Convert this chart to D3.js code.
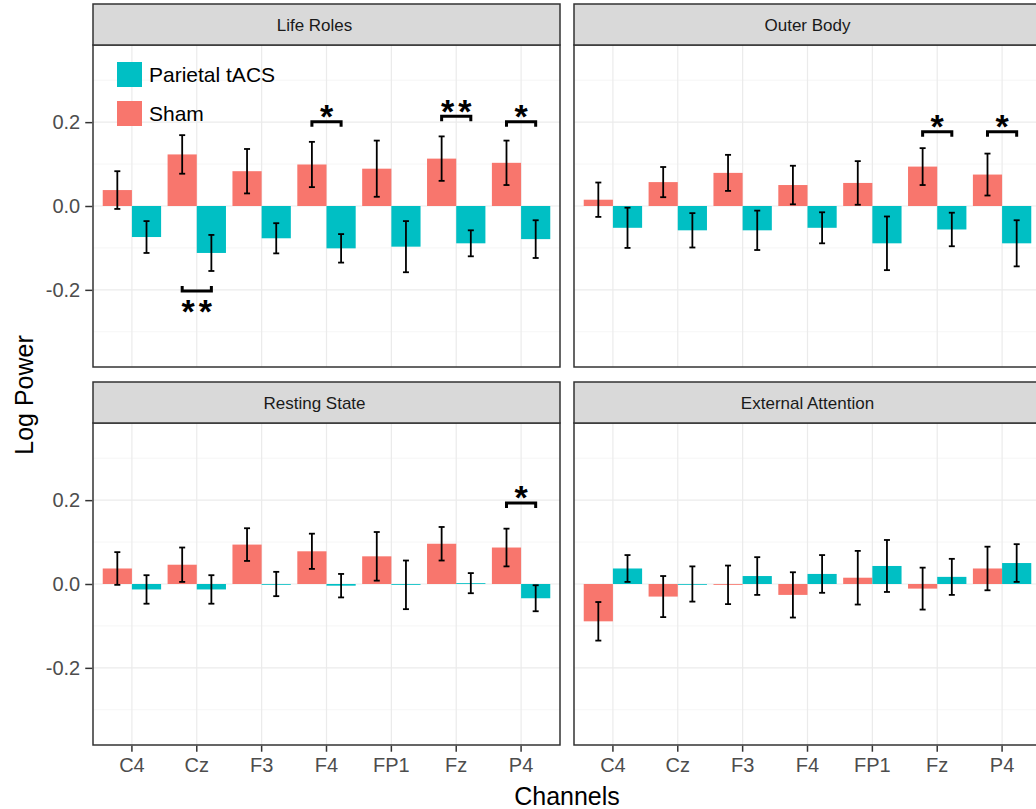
<!DOCTYPE html>
<html>
<head>
<meta charset="utf-8">
<script src="https://cdn.jsdelivr.net/npm/d3@7"></script>
<style>
  body { margin: 0; background: #fff; }
  svg { display: block; font-family: "Liberation Sans", Arial, sans-serif; }
</style>
</head>
<body>
<div id="main"></div>
<script>
// channels and facets
var channels = ["C4", "Cz", "F3", "F4", "FP1", "Fz", "P4"];
var conditions = ["Life Roles", "Outer Body", "Resting State", "External Attention"];
var groups = ["Sham", "Parietal tACS"];
var legendOrder = ["Parietal tACS", "Sham"];
var yTicks = [-0.2, 0.0, 0.2];
var yMinor = [-0.3, -0.1, 0.1, 0.3];

// means and error (half length of bars)
var lifeRolesSham      = [0.038, 0.123, 0.083, 0.099, 0.089, 0.113, 0.103];
var lifeRolesShamErr   = [0.045, 0.046, 0.053, 0.054, 0.067, 0.053, 0.053];
var lifeRolesTacs      = [-0.074, -0.112, -0.077, -0.101, -0.097, -0.089, -0.079];
var lifeRolesTacsErr   = [0.038, 0.043, 0.036, 0.034, 0.061, 0.031, 0.045];

var outerBodySham      = [0.015, 0.057, 0.079, 0.050, 0.055, 0.094, 0.075];
var outerBodyShamErr   = [0.041, 0.036, 0.043, 0.046, 0.052, 0.044, 0.050];
var outerBodyTacs      = [-0.052, -0.058, -0.058, -0.052, -0.089, -0.056, -0.089];
var outerBodyTacsErr   = [0.048, 0.041, 0.047, 0.037, 0.064, 0.040, 0.055];

var restingSham        = [0.037, 0.046, 0.094, 0.078, 0.066, 0.096, 0.087];
var restingShamErr     = [0.039, 0.041, 0.039, 0.042, 0.058, 0.040, 0.045];
var restingTacs        = [-0.013, -0.013, 0.000, -0.004, -0.002, 0.002, -0.034];
var restingTacsErr     = [0.034, 0.034, 0.029, 0.028, 0.058, 0.024, 0.031];

var externalSham       = [-0.089, -0.030, -0.002, -0.026, 0.015, -0.011, 0.037];
var externalShamErr    = [0.046, 0.049, 0.046, 0.054, 0.064, 0.050, 0.052];
var externalTacs       = [0.037, 0.000, 0.019, 0.024, 0.043, 0.017, 0.050];
var externalTacsErr    = [0.032, 0.042, 0.045, 0.045, 0.062, 0.043, 0.045];

// significance brackets
var sigCondition = ["Life Roles", "Life Roles", "Life Roles", "Life Roles", "Outer Body", "Outer Body", "Resting State"];
var sigChannel   = ["Cz", "F4", "Fz", "P4", "Fz", "P4", "P4"];
var sigLabel     = ["**", "*", "**", "*", "*", "*", "*"];
var sigY         = [-0.203, 0.201, 0.214, 0.201, 0.177, 0.177, 0.193];

var colors = { "Sham": "#F8766D", "Parietal tACS": "#00BFC4" };

var series = {
    "Life Roles":         { "Sham": [lifeRolesSham, lifeRolesShamErr], "Parietal tACS": [lifeRolesTacs, lifeRolesTacsErr] },
    "Outer Body":         { "Sham": [outerBodySham, outerBodyShamErr], "Parietal tACS": [outerBodyTacs, outerBodyTacsErr] },
    "Resting State":      { "Sham": [restingSham, restingShamErr],     "Parietal tACS": [restingTacs, restingTacsErr] },
    "External Attention": { "Sham": [externalSham, externalShamErr],   "Parietal tACS": [externalTacs, externalTacsErr] }
};

// layout
var width = 1036, height = 809;
var cols = [{ x0: 93, x1: 560, labelNudge: -12 }, { x0: 574, x1: 1041, labelNudge: 0 }];
var rows = [{ s0: 4, s1: 45, p1: 367 }, { s0: 382, s1: 423, p1: 745 }];
var yDomain = [-0.384, 0.384];

var svg = d3.select("#main").append("svg")
    .attr("width", width)
    .attr("height", height);

conditions.forEach(function (cond, ci) {
    var col = cols[ci % 2], row = rows[Math.floor(ci / 2)];
    var g = svg.append("g");

    var xScale = d3.scaleBand().domain(channels).range([col.x0, col.x1])
        .paddingInner(0).paddingOuter(0.1);
    var xGroup = d3.scaleBand().domain(groups)
        .range([xScale.bandwidth() * 0.05, xScale.bandwidth() * 0.95]);
    var yScale = d3.scaleLinear().domain(yDomain).range([row.p1, row.s1]);
    var cx = function (ch) { return xScale(ch) + xScale.bandwidth() / 2; };

    // panel background + grid
    g.append("rect").attr("x", col.x0).attr("y", row.s1)
        .attr("width", col.x1 - col.x0).attr("height", row.p1 - row.s1).attr("fill", "#fff");
    g.selectAll(".minor").data(yMinor).enter().append("line")
        .attr("x1", col.x0).attr("x2", col.x1)
        .attr("y1", d => yScale(d)).attr("y2", d => yScale(d))
        .attr("stroke", "#F2F2F2").attr("stroke-width", 0.8);
    g.selectAll(".major").data(yTicks).enter().append("line")
        .attr("x1", col.x0).attr("x2", col.x1)
        .attr("y1", d => yScale(d)).attr("y2", d => yScale(d))
        .attr("stroke", "#EBEBEB").attr("stroke-width", 1.2);
    g.selectAll(".vgrid").data(channels).enter().append("line")
        .attr("x1", d => cx(d)).attr("x2", d => cx(d))
        .attr("y1", row.s1).attr("y2", row.p1)
        .attr("stroke", "#EBEBEB").attr("stroke-width", 1.2);

    // bars
    var rows_ = [];
    groups.forEach(function (grp) {
        var vals = series[cond][grp][0], errs = series[cond][grp][1];
        channels.forEach(function (ch, i) {
            rows_.push({ ch: ch, grp: grp, v: vals[i], e: errs[i] });
        });
    });

    g.selectAll(".bar").data(rows_).enter().append("rect")
        .attr("x", d => xScale(d.ch) + xGroup(d.grp))
        .attr("width", xGroup.bandwidth())
        .attr("y", d => yScale(Math.max(0, d.v)))
        .attr("height", d => Math.max(0.8, Math.abs(yScale(d.v) - yScale(0))))
        .attr("fill", d => colors[d.grp]);

    // error bars
    var capW = 3;
    var eb = g.selectAll(".err").data(rows_).enter().append("g")
        .attr("stroke", "#000").attr("stroke-width", 1.8);
    var ex = d => xScale(d.ch) + xGroup(d.grp) + xGroup.bandwidth() / 2;
    eb.append("line").attr("x1", ex).attr("x2", ex)
        .attr("y1", d => yScale(d.v + d.e)).attr("y2", d => yScale(d.v - d.e));
    eb.append("line").attr("x1", d => ex(d) - capW).attr("x2", d => ex(d) + capW)
        .attr("y1", d => yScale(d.v + d.e)).attr("y2", d => yScale(d.v + d.e));
    eb.append("line").attr("x1", d => ex(d) - capW).attr("x2", d => ex(d) + capW)
        .attr("y1", d => yScale(d.v - d.e)).attr("y2", d => yScale(d.v - d.e));

    // significance brackets
    sigCondition.forEach(function (sc, si) {
        if (sc !== cond) return;
        var ch = sigChannel[si], yv = sigY[si];
        var xa = xScale(ch) + xGroup("Sham") + xGroup.bandwidth() / 2;
        var xb = xScale(ch) + xGroup("Parietal tACS") + xGroup.bandwidth() / 2;
        var yb = yScale(yv);
        var dir = yv > 0 ? 1 : -1;
        var leg = 5 * dir;
        g.append("path")
            .attr("d", "M" + xa + "," + (yb + leg) + "V" + yb + "H" + xb + "V" + (yb + leg))
            .attr("fill", "none").attr("stroke", "#000").attr("stroke-width", 3);
        var starC = yb - 13 * dir;
        var lbl = sigLabel[si];
        g.append("text")
            .attr("x", (xa + xb) / 2 + (lbl.length > 1 ? 2 : 0)).attr("y", starC + 0.57 * 34)
            .attr("text-anchor", "middle").attr("font-size", 34).attr("font-weight", "bold")
            .attr("letter-spacing", lbl.length > 1 ? 4 : 0)
            .attr("fill", "#000").text(lbl);
    });

    // panel border
    g.append("rect").attr("x", col.x0).attr("y", row.s1)
        .attr("width", col.x1 - col.x0).attr("height", row.p1 - row.s1)
        .attr("fill", "none").attr("stroke", "#333").attr("stroke-width", 1.5);

    // strip
    g.append("rect").attr("x", col.x0).attr("y", row.s0)
        .attr("width", col.x1 - col.x0).attr("height", row.s1 - row.s0)
        .attr("fill", "#D9D9D9").attr("stroke", "#333").attr("stroke-width", 1.5);
    g.append("text")
        .attr("x", (col.x0 + col.x1) / 2 + col.labelNudge)
        .attr("y", (row.s0 + row.s1) / 2 + 6)
        .attr("text-anchor", "middle").attr("font-size", 17).attr("fill", "#1A1A1A")
        .text(cond);

    // y axis on left column
    if (ci % 2 === 0) {
        var yAxis = d3.axisLeft(yScale).tickValues(yTicks)
            .tickFormat(d3.format(".1f")).tickSize(7).tickPadding(5);
        var ya = svg.append("g").attr("transform", "translate(" + (col.x0 - 0.75) + ",0)").call(yAxis);
        ya.select(".domain").remove();
        ya.selectAll("line").attr("stroke", "#333").attr("stroke-width", 1.5);
        ya.selectAll("text").attr("font-size", 20).attr("fill", "#4D4D4D")
            .attr("font-family", "Liberation Sans, Arial, sans-serif")
            .text(d => d < 0 ? "-" + Math.abs(d).toFixed(1) : d.toFixed(1));
    }
    // x axis on bottom row
    if (ci >= 2) {
        var xAxis = d3.axisBottom(xScale).tickSize(6).tickPadding(6);
        var xa_ = svg.append("g").attr("transform", "translate(0," + (row.p1 + 0.75) + ")").call(xAxis);
        xa_.select(".domain").remove();
        xa_.selectAll("line").attr("stroke", "#333").attr("stroke-width", 1.5);
        xa_.selectAll("text").attr("font-size", 20).attr("fill", "#4D4D4D")
            .attr("font-family", "Liberation Sans, Arial, sans-serif");
    }

    // legend inside first panel
    if (ci === 0) {
        legendOrder.forEach(function (grp, li) {
            var ly = 62 + li * 39;
            svg.append("rect").attr("x", 117).attr("y", ly).attr("width", 25).attr("height", 25)
                .attr("fill", colors[grp]);
            svg.append("text").attr("x", 149).attr("y", ly + 12.5 + 7.5)
                .attr("font-size", 21).attr("fill", "#000").text(grp);
        });
    }
});

// axis titles
svg.append("text")
    .attr("transform", "translate(33,395) rotate(-90)")
    .attr("text-anchor", "middle").attr("font-size", 25).attr("fill", "#000")
    .text("Log Power");
svg.append("text")
    .attr("x", 567).attr("y", 805)
    .attr("text-anchor", "middle").attr("font-size", 25).attr("fill", "#000")
    .text("Channels");
</script>
</body>
</html>
